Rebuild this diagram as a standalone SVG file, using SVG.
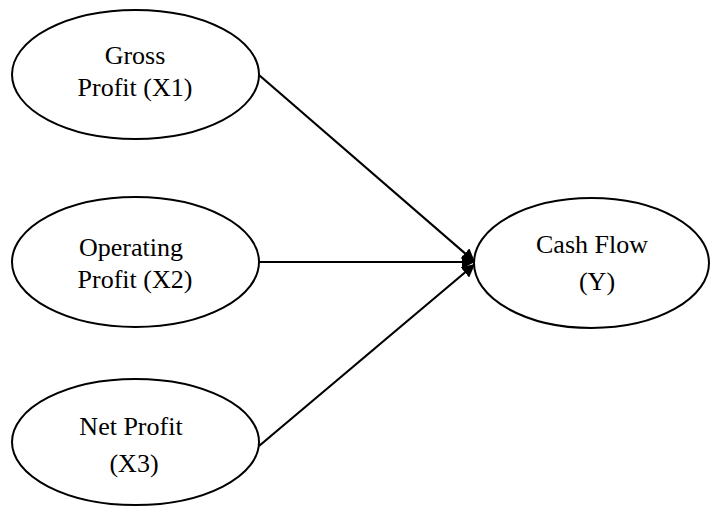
<svg xmlns="http://www.w3.org/2000/svg" width="711" height="507" viewBox="0 0 711 507">
<style>
.node ellipse{fill:#fff;stroke:#000;stroke-width:2}
.node text{font-family:"Liberation Serif","Times New Roman",serif;font-size:26px;fill:#000;text-anchor:middle}
.edge{stroke:#000;stroke-width:2.2;fill:none;marker-end:url(#arr)}
</style>
<defs>
<marker id="arr" viewBox="0 0 10 10" refX="10" refY="5" markerWidth="6" markerHeight="6" orient="auto" markerUnits="strokeWidth">
<path d="M0,0 L10,5 L0,10 z" fill="#000"/>
</marker>
</defs>
<g id="connectors">
<line class="edge" x1="259" y1="75" x2="475" y2="262"/>
<line class="edge" x1="259" y1="262" x2="475" y2="262"/>
<line class="edge" x1="259" y1="446" x2="475" y2="264"/>
</g>
<g id="n1" class="node">
<ellipse cx="135.5" cy="74.5" rx="123.5" ry="64.5"/>
<text x="135" y="64">Gross</text>
<text x="135" y="96">Profit (X1)</text>
</g>
<g id="n2" class="node">
<ellipse cx="135.5" cy="262" rx="123.5" ry="65"/>
<text x="131" y="256">Operating</text>
<text x="135" y="288">Profit (X2)</text>
</g>
<g id="n3" class="node">
<ellipse cx="135.5" cy="442" rx="123.5" ry="63"/>
<text x="131" y="435">Net Profit</text>
<text x="134" y="472">(X3)</text>
</g>
<g id="n4" class="node">
<ellipse cx="591.5" cy="263" rx="117.5" ry="65"/>
<text x="592" y="253">Cash Flow</text>
<text x="597" y="290">(Y)</text>
</g>
</svg>
